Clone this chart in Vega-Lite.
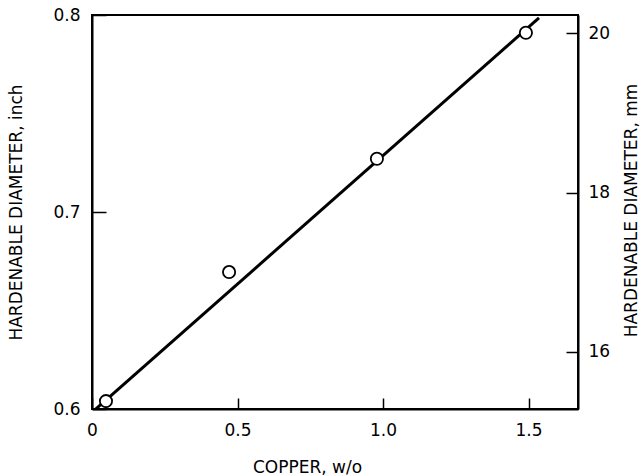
{
  "$schema": "https://vega.github.io/schema/vega-lite/v6.json",
  "width": 486,
  "height": 394,
  "autosize": "none",
  "padding": {"left": 92, "top": 15, "right": 64, "bottom": 66},
  "background": "white",
  "config": {
    "view": {"stroke": "black", "strokeWidth": 2},
    "font": "DejaVu Sans",
    "axis": {
      "domainColor": "black",
      "domainWidth": 2,
      "tickColor": "black",
      "tickWidth": 1.5,
      "labelColor": "black",
      "titleColor": "black",
      "grid": false,
      "labelFont": "DejaVu Sans",
      "titleFont": "DejaVu Sans",
      "labelFontSize": 17,
      "titleFontSize": 17,
      "titleFontWeight": "normal",
      "labelOverlap": false,
      "labelFlush": false
    }
  },
  "datasets": {
    "measured": [
      {"cu": 0.048, "d": 0.604},
      {"cu": 0.471, "d": 0.6695},
      {"cu": 0.979, "d": 0.727},
      {"cu": 1.491, "d": 0.791}
    ],
    "fit": [
      {"cu": 0.0, "d": 0.5983},
      {"cu": 1.536, "d": 0.7985}
    ],
    "mm": [
      {"mm": 15.285},
      {"mm": 20.226}
    ]
  },
  "layer": [
    {
      "layer": [
        {
          "data": {"name": "fit"},
          "mark": {"type": "line", "color": "black", "strokeWidth": 3, "clip": true},
          "encoding": {
            "x": {
              "field": "cu",
              "type": "quantitative",
              "scale": {"domain": [0, 1.67], "nice": false, "zero": false},
              "axis": {
                "values": [0, 0.5, 1, 1.5],
                "labelExpr": "datum.value == 0 ? '0' : format(datum.value, '.1f')",
                "tickSize": -11,
                "labelPadding": 24,
                "title": "COPPER, w/o",
                "titleX": 215,
                "titleY": 58,
                "titleAlign": "center",
                "titleBaseline": "middle"
              }
            },
            "y": {
              "field": "d",
              "type": "quantitative",
              "scale": {"domain": [0.6, 0.8], "nice": false, "zero": false},
              "axis": {
                "values": [0.6, 0.7, 0.8],
                "format": ".1f",
                "tickSize": -14,
                "labelPadding": 26,
                "title": "HARDENABLE DIAMETER, inch",
                "titleX": -76,
                "titleY": 197,
                "titleAngle": 270,
                "titleAlign": "center",
                "titleBaseline": "middle"
              }
            }
          }
        },
        {
          "data": {"name": "measured"},
          "mark": {"type": "point", "shape": "circle", "size": 150, "stroke": "black", "fill": "white", "strokeWidth": 1.8, "opacity": 1, "fillOpacity": 1},
          "encoding": {
            "x": {"field": "cu", "type": "quantitative"},
            "y": {"field": "d", "type": "quantitative"}
          }
        }
      ]
    },
    {
      "data": {"name": "mm"},
      "mark": {"type": "point", "opacity": 0},
      "encoding": {
        "y": {
          "field": "mm",
          "type": "quantitative",
          "scale": {"domain": [15.285, 20.226], "nice": false, "zero": false},
          "axis": {
            "orient": "right",
            "values": [16, 18, 20],
            "format": "d",
            "tickSize": -12,
            "labelPadding": 22,
            "title": "HARDENABLE DIAMETER, mm",
            "titleX": 53,
            "titleY": 195,
            "titleAngle": 270,
            "titleAlign": "center",
            "titleBaseline": "middle"
          }
        }
      }
    }
  ],
  "resolve": {"scale": {"y": "independent"}, "axis": {"y": "independent"}}
}
